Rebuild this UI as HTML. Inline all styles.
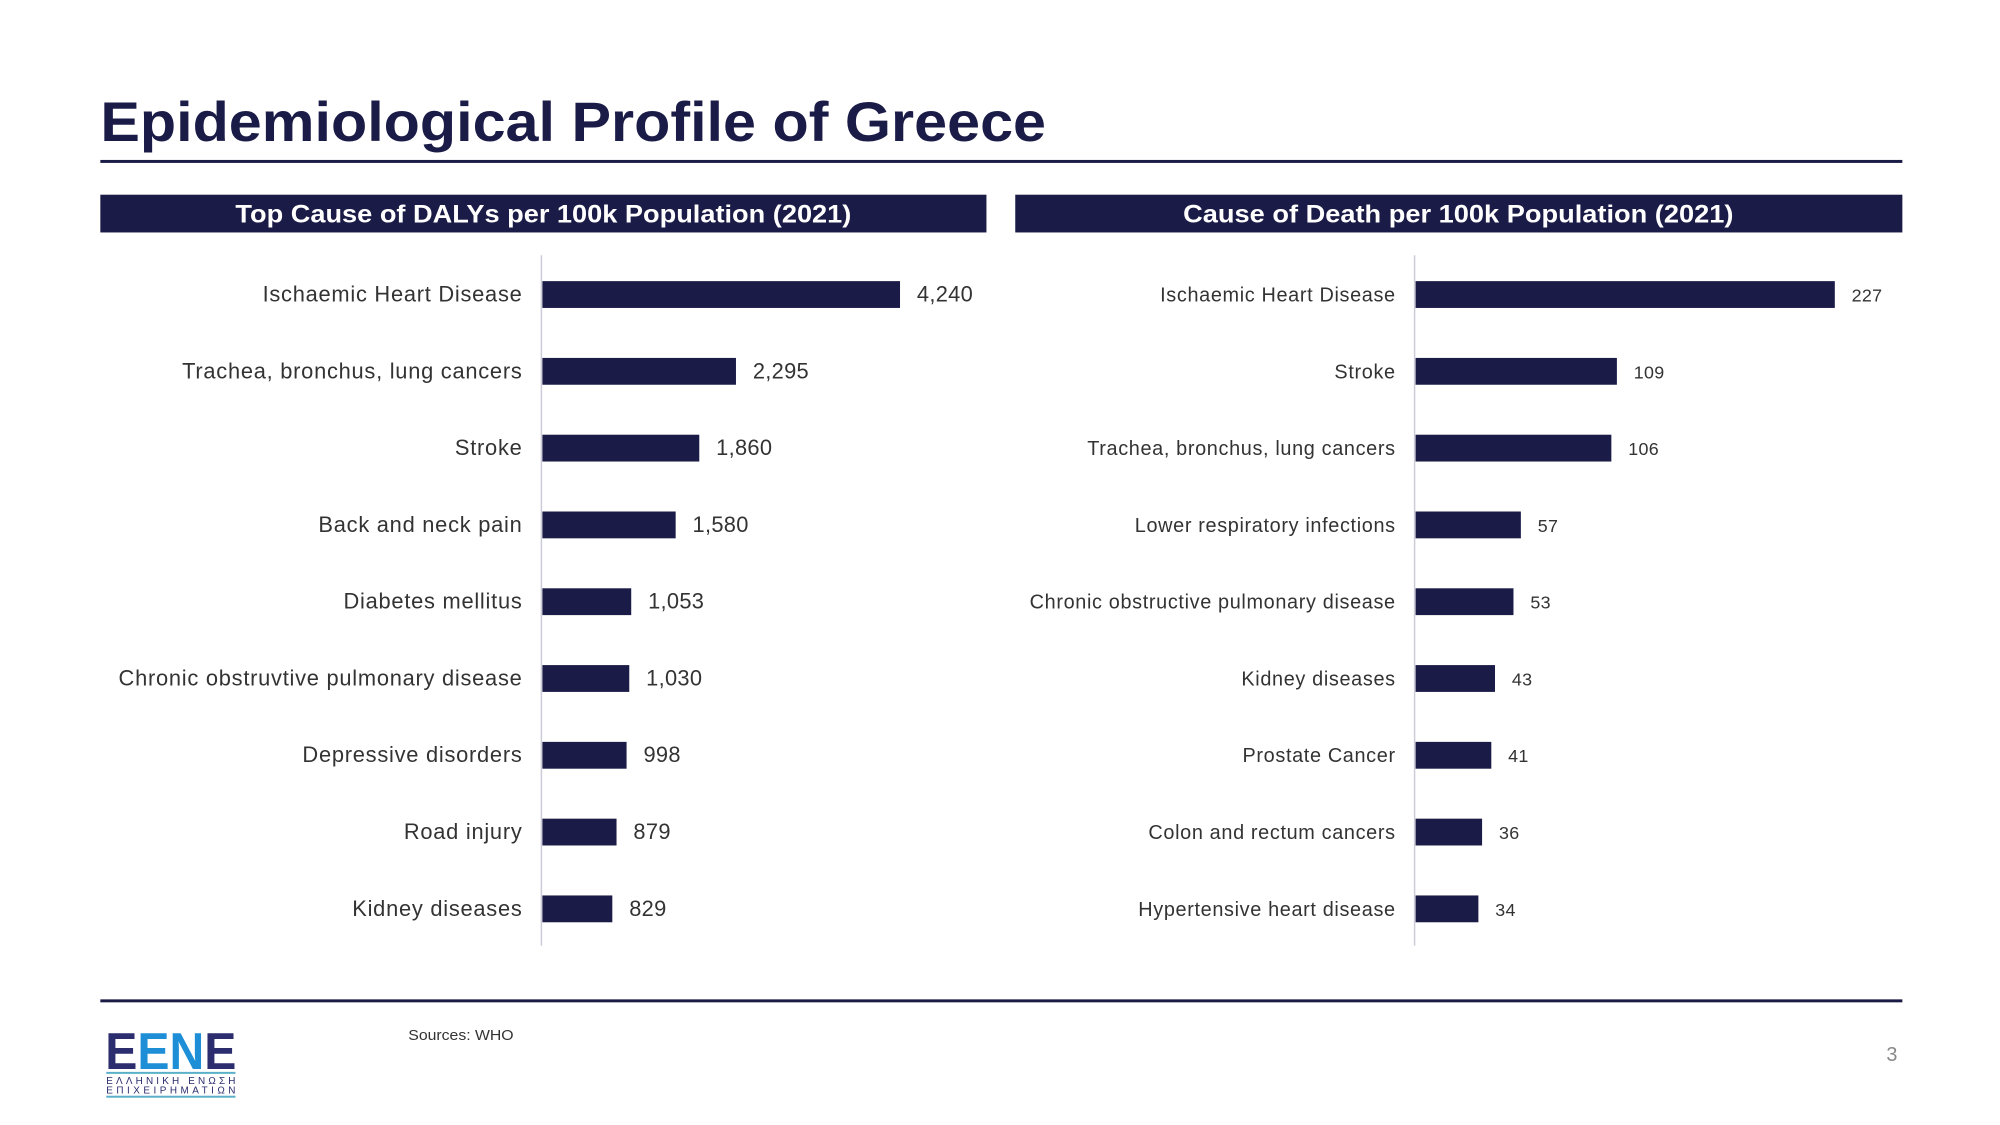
<!DOCTYPE html>
<html><head><meta charset="utf-8"><style>
html,body{margin:0;padding:0;background:#fff;}
svg{display:block;font-family:"Liberation Sans",sans-serif;}
</style></head><body>
<svg id="s" width="2000" height="1125" viewBox="0 0 2000 1125">
<g transform="scale(0.9934)">
<text x="101" y="142" font-size="56" font-weight="bold" fill="#1b1b47" textLength="952" lengthAdjust="spacingAndGlyphs">Epidemiological Profile of Greece</text>
<rect x="101" y="161" width="1814" height="3" fill="#1b1b47"/>
<rect x="101" y="196" width="892" height="38" fill="#1b1b47"/>
<text x="547" y="224" font-size="25" font-weight="bold" fill="#fff" text-anchor="middle" textLength="620" lengthAdjust="spacingAndGlyphs">Top Cause of DALYs  per 100k Population (2021)</text>
<rect x="1022" y="196" width="893" height="38" fill="#1b1b47"/>
<text x="1468" y="224" font-size="25" font-weight="bold" fill="#fff" text-anchor="middle" textLength="554" lengthAdjust="spacingAndGlyphs">Cause of Death per 100k Population (2021)</text>
<g id="left"></g>
<g id="right"></g>
<rect x="101" y="1006" width="1814" height="3" fill="#1b1b47"/>
<g>
<text x="106" y="1076" font-size="52" font-weight="bold" fill="#2b2d6e" textLength="132" lengthAdjust="spacingAndGlyphs">E<tspan fill="#1e8fd6">EN</tspan>E</text>
<rect x="107" y="1079" width="130" height="2" fill="#5ab0c8"/>
<text x="107" y="1091" font-size="10" fill="#2b2d6e" textLength="130" lengthAdjust="spacing">ΕΛΛΗΝΙΚΗ ΕΝΩΣΗ</text>
<text x="107" y="1101" font-size="10" fill="#2b2d6e" textLength="130" lengthAdjust="spacing">ΕΠΙΧΕΙΡΗΜΑΤΙΩΝ</text>
<rect x="107" y="1103" width="130" height="2" fill="#5ab0c8"/>
</g>
<text x="411" y="1047" font-size="15" fill="#333" textLength="106" lengthAdjust="spacingAndGlyphs">Sources: WHO</text>
<text x="1910" y="1068" font-size="20" fill="#888" text-anchor="end">3</text>
</g>
</svg>
<script>
const leftCategories = ["Ischaemic Heart Disease","Trachea, bronchus, lung cancers","Stroke","Back and neck pain","Diabetes mellitus","Chronic obstruvtive pulmonary disease","Depressive disorders","Road injury","Kidney diseases"];
const leftValues = [4240,2295,1860,1580,1053,1030,998,879,829];
const leftLabels = ["4,240","2,295","1,860","1,580","1,053","1,030","998","879","829"];
const rightCategories = ["Ischaemic Heart Disease","Stroke","Trachea, bronchus, lung cancers","Lower respiratory infections","Chronic obstructive pulmonary disease","Kidney diseases","Prostate Cancer","Colon and rectum cancers","Hypertensive heart disease"];
const rightValues = [227,109,106,57,53,43,41,36,34];
const rightLabels = ["227","109","106","57","53","43","41","36","34"];
const NS="http://www.w3.org/2000/svg";
function mk(tag,attrs,parent){const e=document.createElementNS(NS,tag);for(const k in attrs)e.setAttribute(k,attrs[k]);parent.appendChild(e);return e;}
function draw(g,cats,vals,labs,axisX,maxVal,maxPx,catSize,catSp,valSize,valSp,prefix){
  const y0=296.5, step=77.3, bh=27;
  const x=v=>axisX+v/maxVal*maxPx;
  const ax=mk('line',{x1:axisX,x2:axisX,y1:257,y2:952,stroke:'#ccccd8','stroke-width':1.5},g);
  
  
  cats.forEach((c,i)=>{
    const cy=y0+i*step;
    const t=mk('text',{x:axisX-19,y:cy+7,'font-size':catSize,'letter-spacing':catSp,fill:'#333','text-anchor':'end'},g);
    t.textContent=c;
    
    
    const r=mk('rect',{x:axisX+1,y:cy-bh/2,width:x(vals[i])-axisX,height:bh,fill:'#1b1b47'},g);
    
    
    const v=mk('text',{x:x(vals[i])+18,y:cy+7,'font-size':valSize,'letter-spacing':valSp,fill:'#333'},g);
    v.textContent=labs[i];
    
    
  });
}
draw(document.getElementById('left'),leftCategories,leftValues,leftLabels,545,4240,360,22,0.75,22,0.3,'dalys');
draw(document.getElementById('right'),rightCategories,rightValues,rightLabels,1424,227,422,20,0.65,18,0.3,'deaths');
</script>
</body></html>
